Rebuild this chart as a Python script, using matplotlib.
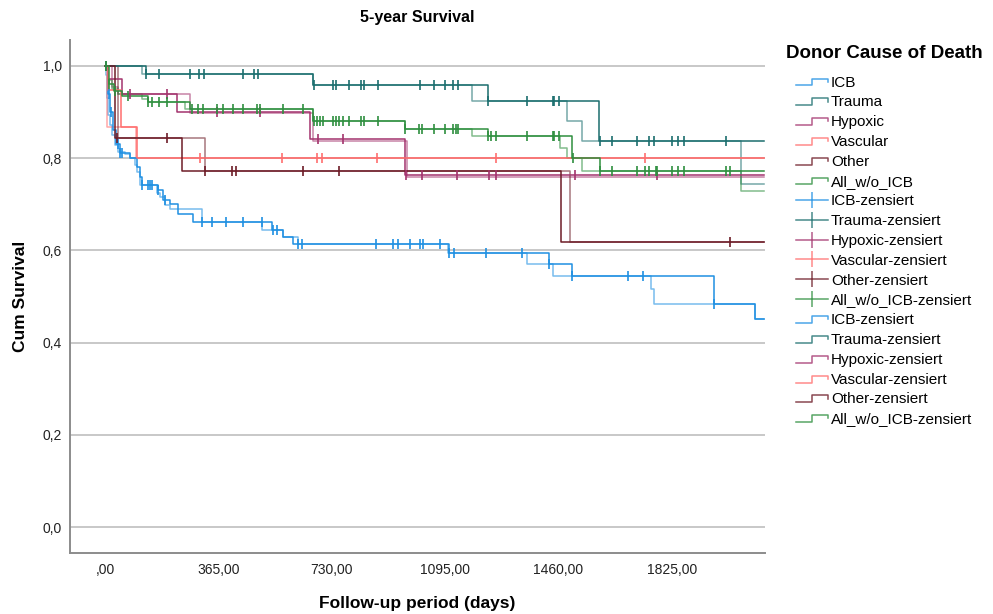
import matplotlib
matplotlib.use('Agg')
import matplotlib.pyplot as plt
import numpy as np
from matplotlib.lines import Line2D
from matplotlib.legend_handler import HandlerBase

# follow-up time where every curve stops (days)
end_day = 2122

groups = ['ICB', 'Trauma', 'Hypoxic', 'Vascular', 'Other', 'All_w/o_ICB']
colors = ['#1f90e2', '#1b6e6e', '#a3336d', '#ff6e6e', '#6d1c27', '#2f8f3f']

# main curve (with censor marks) and the second, duplicated curve for each group
icb_t1 = [0, 10, 16, 26, 35, 48, 80, 103, 113, 119, 170, 186, 209, 235, 283, 537, 572, 605, 1109, 1431, 1502, 1961, 2093]
icb_s1 = [1.0, 0.94, 0.90, 0.86, 0.83, 0.81, 0.80, 0.78, 0.76, 0.741, 0.73, 0.71, 0.70, 0.678, 0.661, 0.645, 0.63, 0.613, 0.595, 0.570, 0.544, 0.483, 0.451]
icb_t2 = [0, 3, 6, 10, 16, 23, 32, 42, 64, 80, 96, 103, 113, 167, 177, 193, 209, 312, 505, 572, 621, 1103, 1360, 1441, 1759, 1768, 2093]
icb_s2 = [1.0, 0.98, 0.931, 0.894, 0.872, 0.851, 0.829, 0.814, 0.808, 0.801, 0.786, 0.769, 0.741, 0.725, 0.715, 0.699, 0.689, 0.661, 0.645, 0.630, 0.613, 0.595, 0.570, 0.544, 0.516, 0.483, 0.451]
icb_cens = [12, 20, 42, 48, 55, 119, 138, 145, 151, 170, 193, 312, 344, 389, 444, 505, 540, 553, 621, 633, 871,
            926, 942, 981, 1013, 1023, 1080, 1109, 1125, 1225, 1344, 1431, 1502, 1685, 1733, 1961]

trauma_t1 = [0, 132, 669, 1232, 1592]
trauma_s1 = [1.0, 0.983, 0.959, 0.924, 0.836]
trauma_t2 = [0, 119, 669, 1180, 1486, 1537, 2048]
trauma_s2 = [1.0, 0.983, 0.959, 0.924, 0.881, 0.836, 0.743]
trauma_cens = [2, 132, 174, 273, 302, 318, 444, 479, 492, 672, 733, 743, 785, 823, 833, 878, 1013, 1058, 1096, 1119,
               1138, 1232, 1360, 1441, 1444, 1463, 1595, 1633, 1714, 1752, 1768, 1826, 1846, 1865, 2000]

hyp_t1 = [0, 10, 55, 232, 659, 965]
hyp_s1 = [1.0, 0.972, 0.94, 0.90, 0.842, 0.764]
hyp_t2 = [0, 23, 42, 273, 669, 971]
hyp_s2 = [1.0, 0.955, 0.94, 0.897, 0.838, 0.76]
hyp_cens = [80, 199, 360, 498, 685, 765, 968, 1019, 1132, 1235, 1260, 1514, 1778]

vasc_t1 = [0, 10, 51, 103]
vasc_s1 = [1.0, 0.948, 0.868, 0.80]
vasc_t2 = [0, 6, 100]
vasc_s2 = [1.0, 0.868, 0.80]
vasc_cens = [305, 569, 682, 698, 875, 1260, 1740]

other_t1 = [0, 32, 248, 1469]
other_s1 = [1.0, 0.844, 0.773, 0.619]
other_t2 = [0, 42, 322, 1498]
other_s2 = [1.0, 0.844, 0.773, 0.619]
other_cens = [39, 199, 322, 408, 421, 637, 752, 2013]

all_t1 = [0, 13, 29, 55, 138, 273, 669, 965, 1232, 1502, 1595]
all_s1 = [1.0, 0.96, 0.945, 0.935, 0.922, 0.906, 0.881, 0.864, 0.847, 0.80, 0.773]
all_t2 = [0, 10, 23, 42, 119, 138, 257, 669, 965, 1180, 1466, 1486, 1537, 2048]
all_s2 = [1.0, 0.97, 0.95, 0.94, 0.928, 0.922, 0.906, 0.881, 0.864, 0.847, 0.822, 0.80, 0.773, 0.728]
all_cens = [3, 13, 32, 74, 138, 151, 174, 199, 280, 299, 315, 360, 379, 412, 444, 489, 498, 572, 637, 672, 682,
            691, 701, 733, 743, 752, 765, 785, 823, 833, 878, 965, 1010, 1019, 1058, 1096, 1119, 1129, 1138, 1232,
            1244, 1260, 1360, 1441, 1444, 1463, 1508, 1595, 1633, 1714, 1740, 1752, 1775, 1778, 1826, 1846, 1865,
            2000, 2013]

curves = [
    (icb_t1, icb_s1, icb_t2, icb_s2, icb_cens),
    (trauma_t1, trauma_s1, trauma_t2, trauma_s2, trauma_cens),
    (hyp_t1, hyp_s1, hyp_t2, hyp_s2, hyp_cens),
    (vasc_t1, vasc_s1, vasc_t2, vasc_s2, vasc_cens),
    (other_t1, other_s1, other_t2, other_s2, other_cens),
    (all_t1, all_s1, all_t2, all_s2, all_cens),
]

xticks = [0, 365, 730, 1095, 1460, 1825]
xtick_labels = [',00', '365,00', '730,00', '1095,00', '1460,00', '1825,00']
yticks = [0.0, 0.2, 0.4, 0.6, 0.8, 1.0]
ytick_labels = ['0,0', '0,2', '0,4', '0,6', '0,8', '1,0']

legend_labels = groups + [g + '-zensiert' for g in groups] + [g + '-zensiert' for g in groups]


class StepHandler(HandlerBase):
    def create_artists(self, legend, orig_handle, xdescent, ydescent, width, height, fontsize, trans):
        x0 = -xdescent
        x1 = x0 + width
        xm = x0 + width * 0.5
        y0 = -ydescent + height * 0.1
        y1 = -ydescent + height * 0.75
        ln = Line2D([x0, xm, xm, x1, x1], [y0, y0, y1, y1, y1 - height * 0.3],
                    color=orig_handle.get_color(), lw=1.1, alpha=0.8, transform=trans)
        return [ln]


def step_value(t, s, c):
    i = np.searchsorted(np.array(t), c, side='right') - 1
    return np.array(s)[i]


fig = plt.figure(figsize=(9.93, 6.14), dpi=100)
ax = fig.add_axes([70 / 993, 61 / 614, 695 / 993, 513 / 614])

for (t1, s1, t2, s2, cens), col in zip(curves, colors):
    ax.step(t2 + [end_day], s2 + [s2[-1]], where='post', color=col, lw=1.1, alpha=0.6, zorder=3)
    ax.step(t1 + [end_day], s1 + [s1[-1]], where='post', color=col, lw=1.1, zorder=4)
    ax.plot(cens, step_value(t1, s1, cens), linestyle='none', marker='|', markersize=7,
            markeredgewidth=1.2, color=col, zorder=5)

ax.set_xlim(-113, 2125)
ax.set_ylim(-0.056, 1.056)
ax.set_xticks(xticks)
ax.set_xticklabels(xtick_labels)
ax.set_yticks(yticks)
ax.set_yticklabels(ytick_labels)
ax.tick_params(length=0, labelsize=10, colors='#222222')
ax.tick_params(axis='x', pad=7)
ax.tick_params(axis='y', pad=6)
for lab in ax.get_xticklabels() + ax.get_yticklabels():
    lab.set_family(['Liberation Sans', 'DejaVu Sans'])

ax.grid(axis='y', color='#c8c8c8', lw=1.4, zorder=0)
ax.set_axisbelow(True)
for sp in ['top', 'right']:
    ax.spines[sp].set_visible(False)
for sp in ['left', 'bottom']:
    ax.spines[sp].set_color('#8c8c8c')
    ax.spines[sp].set_linewidth(1.4)

fnt = ['Liberation Sans', 'DejaVu Sans']
ax.set_title('5-year Survival', fontsize=11.5, fontweight='bold', family=fnt, pad=13)
ax.set_xlabel('Follow-up period (days)', fontsize=12.5, fontweight='bold', family=fnt, labelpad=14)
ax.set_ylabel('Cum Survival', fontsize=12.5, fontweight='bold', family=fnt, labelpad=10)

handles = []
for col in colors:
    handles.append(Line2D([0], [0], color=col))
for col in colors:
    handles.append(Line2D([0], [0], color=col, lw=1.1, alpha=0.8, marker='|', markersize=11, markeredgewidth=1.1))
for col in colors:
    handles.append(Line2D([0], [0], color=col))

hmap = {h: StepHandler() for i, h in enumerate(handles) if i < 6 or i >= 12}
leg = fig.legend(handles, legend_labels, handler_map=hmap, loc='upper left',
                 bbox_to_anchor=(778 / 993, 1 - 37 / 614), frameon=False, borderpad=0,
                 labelspacing=0.38, handlelength=2.1, handletextpad=0.2,
                 title='Donor Cause of Death', prop={'family': fnt, 'size': 11})
leg.get_title().set_fontweight('bold')
leg.get_title().set_fontsize(13.5)
leg.get_title().set_family(fnt)
leg._legend_box.sep = 10

fig.savefig('out.png', dpi=100)
